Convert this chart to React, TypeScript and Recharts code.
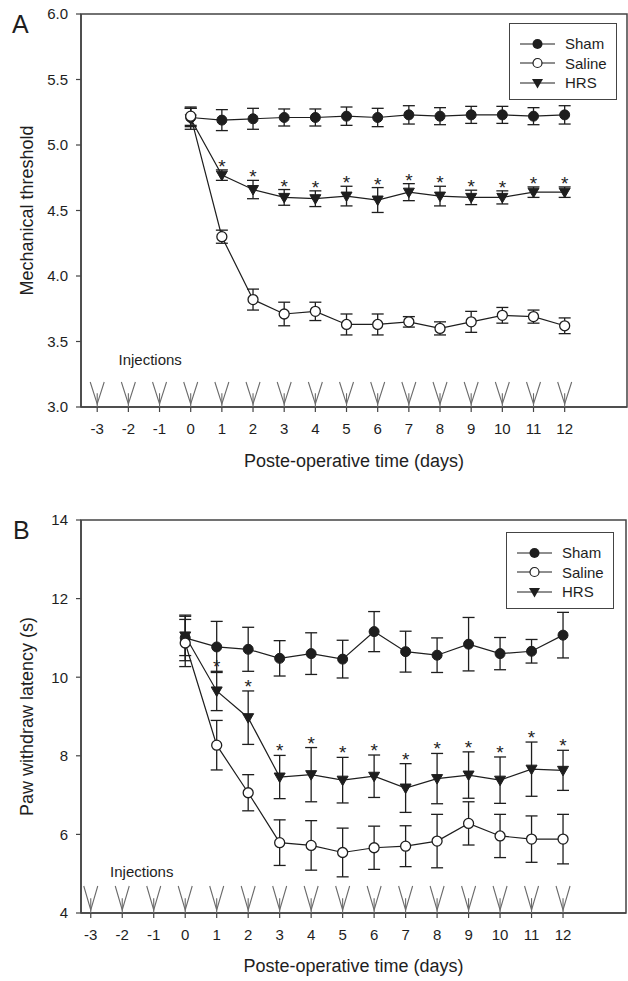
import React from "react";
import { ComposedChart, Line, Scatter, XAxis, YAxis, ErrorBar, Legend, ReferenceDot, ReferenceArea } from "recharts";

// measurement days (post-operative)
const days = [0, 1, 2, 3, 4, 5, 6, 7, 8, 9, 10, 11, 12];

// Panel A - mechanical threshold (mean, SEM)
const shamA = [5.21, 5.19, 5.2, 5.21, 5.21, 5.22, 5.21, 5.23, 5.22, 5.23, 5.23, 5.22, 5.23];
const shamAErr = [0.07, 0.08, 0.08, 0.065, 0.065, 0.07, 0.07, 0.07, 0.065, 0.065, 0.065, 0.065, 0.07];
const salineA = [5.22, 4.3, 3.82, 3.71, 3.73, 3.63, 3.63, 3.65, 3.6, 3.65, 3.7, 3.69, 3.62];
const salineAErr = [0.07, 0.05, 0.08, 0.09, 0.07, 0.08, 0.08, 0.04, 0.05, 0.08, 0.06, 0.05, 0.06];
const hrsA = [5.2, 4.77, 4.66, 4.6, 4.59, 4.61, 4.58, 4.64, 4.61, 4.6, 4.6, 4.64, 4.64];
const hrsAErr = [0.08, 0.04, 0.07, 0.06, 0.06, 0.075, 0.095, 0.065, 0.075, 0.055, 0.05, 0.04, 0.04];

// Panel B - paw withdraw latency (s)
const shamB = [11.0, 10.77, 10.71, 10.48, 10.6, 10.46, 11.16, 10.65, 10.56, 10.84, 10.6, 10.66, 11.07];
const shamBErr = [0.58, 0.65, 0.56, 0.45, 0.53, 0.48, 0.51, 0.52, 0.44, 0.68, 0.41, 0.3, 0.58];
const salineB = [10.87, 8.27, 7.06, 5.79, 5.72, 5.54, 5.66, 5.7, 5.83, 6.28, 5.96, 5.88, 5.88];
const salineBErr = [0.6, 0.63, 0.46, 0.58, 0.63, 0.62, 0.55, 0.52, 0.68, 0.55, 0.55, 0.59, 0.63];
const hrsB = [11.05, 9.65, 8.97, 7.46, 7.52, 7.38, 7.48, 7.18, 7.42, 7.51, 7.38, 7.66, 7.63];
const hrsBErr = [0.5, 0.5, 0.68, 0.55, 0.69, 0.58, 0.54, 0.62, 0.64, 0.59, 0.59, 0.69, 0.51];

// days with significant HRS vs saline difference
const sigDaysA = [1, 2, 3, 4, 5, 6, 7, 8, 9, 10, 11, 12];
const sigDaysB = [1, 2, 3, 4, 5, 6, 7, 8, 9, 10, 11, 12];

const injectionDays = [-3, -2, -1, 0, 1, 2, 3, 4, 5, 6, 7, 8, 9, 10, 11, 12];
const xTicks = [-3, -2, -1, 0, 1, 2, 3, 4, 5, 6, 7, 8, 9, 10, 11, 12];
const yTicksA = [3, 3.5, 4, 4.5, 5, 5.5, 6];
const yTicksB = [4, 6, 8, 10, 12, 14];
const groups = ["Sham", "Saline", "HRS"];

const INK = "#1e1e1e";
const AXIS = "#444";
const FONT = "'Liberation Sans', Arial, Helvetica, sans-serif";

function makeRows(sham: number[], shamErr: number[], saline: number[], salineErr: number[], hrs: number[], hrsErr: number[]) {
  return days.map((d, i) => ({
    day: d,
    sham: sham[i],
    shamErr: shamErr[i],
    saline: saline[i],
    salineErr: salineErr[i],
    hrs: hrs[i],
    hrsErr: hrsErr[i],
  }));
}

function ShamDot(props: any) {
  const { cx, cy, index } = props;
  if (cx == null || cy == null) return null;
  return <circle key={`sh-${index}`} cx={cx} cy={cy} r={5} fill={INK} stroke={INK} strokeWidth={1} />;
}

function SalineDot(props: any) {
  const { cx, cy, index } = props;
  if (cx == null || cy == null) return null;
  return <circle key={`sa-${index}`} cx={cx} cy={cy} r={5} fill="#fff" stroke={INK} strokeWidth={1.3} />;
}

function HrsDot(props: any) {
  const { cx, cy, index } = props;
  if (cx == null || cy == null) return null;
  return (
    <path
      key={`hr-${index}`}
      d={`M${cx - 5.5},${cy - 4} L${cx + 5.5},${cy - 4} L${cx},${cy + 5.5} Z`}
      fill={INK}
      stroke={INK}
      strokeWidth={1}
    />
  );
}

// little "V" arrow marking an injection, tip sitting on the x axis
const arrowShape = (h: number) => (props: any) => {
  const { cx, cy } = props;
  if (cx == null || cy == null) return <g />;
  return (
    <g stroke="#6b6b6b" strokeWidth={1.1} fill="none">
      <path d={`M${cx - 7},${cy - h} L${cx},${cy - 3} L${cx + 7},${cy - h}`} />
      <path d={`M${cx},${cy - h * 0.55} L${cx},${cy}`} />
    </g>
  );
};

const starShape = (dy: number) => (props: any) => {
  const { cx, cy } = props;
  if (cx == null || cy == null) return <g />;
  return (
    <text x={cx} y={cy + dy} textAnchor="middle" fontSize={19} fill={INK}>
      *
    </text>
  );
};

function LegendMarker({ name }: { name: string }) {
  return (
    <svg width={36} height={12} style={{ marginRight: 9, display: "block" }}>
      <line x1={0} x2={35} y1={6} y2={6} stroke={INK} strokeWidth={1.2} />
      {name === "Sham" && <circle cx={17.5} cy={6} r={5} fill={INK} />}
      {name === "Saline" && <circle cx={17.5} cy={6} r={4.5} fill="#fff" stroke={INK} strokeWidth={1.2} />}
      {name === "HRS" && <path d="M12,2 L23,2 L17.5,11.5 Z" fill={INK} />}
    </svg>
  );
}

function LegendBox() {
  return (
    <div
      style={{
        width: 108,
        height: 77,
        boxSizing: "border-box",
        border: `1px solid ${AXIS}`,
        padding: "10px 0 0 10px",
        background: "#fff",
      }}
    >
      {groups.map((g) => (
        <div key={g} style={{ display: "flex", alignItems: "center", height: 19.5, fontSize: 15, color: INK }}>
          <LegendMarker name={g} />
          <span>{g}</span>
        </div>
      ))}
    </div>
  );
}

type PanelProps = {
  rows: any[];
  hrs: number[];
  hrsErr: number[];
  sigDays: number[];
  height: number;
  margin: { top: number; right: number; bottom: number; left: number };
  xHeight: number;
  xTitleOffset: number;
  xDomain: [number, number];
  yDomain: [number, number];
  yTicks: number[];
  yFormat: (v: number) => string;
  yTitle: string;
  injLabelAt: { x: number; y: number };
  arrowHeight: number;
  starDy: number;
  legendPos: { left: number; top: number };
};

function Panel(p: PanelProps) {
  const stars = p.sigDays.map((d) => {
    const i = days.indexOf(d);
    return { day: d, top: p.hrs[i] + p.hrsErr[i] };
  });
  const arrows = injectionDays.map((d) => ({ day: d, base: p.yDomain[0] }));

  return (
    <ComposedChart width={628} height={p.height} data={p.rows} margin={p.margin}>
      <XAxis
        dataKey="day"
        type="number"
        domain={p.xDomain}
        ticks={xTicks}
        interval={0}
        allowDataOverflow
        height={p.xHeight}
        tickSize={5}
        tickMargin={11}
        axisLine={{ stroke: AXIS, strokeWidth: 1.5 }}
        tickLine={{ stroke: AXIS, strokeWidth: 1.2 }}
        tick={{ fill: INK, fontSize: 15 }}
        label={{ value: "Poste-operative time (days)", position: "insideBottom", offset: p.xTitleOffset, fontSize: 18, fill: INK }}
      />
      <YAxis
        type="number"
        domain={p.yDomain}
        ticks={p.yTicks}
        interval={0}
        allowDataOverflow
        width={76}
        tickSize={5}
        tickMargin={8}
        tickFormatter={p.yFormat}
        axisLine={{ stroke: AXIS, strokeWidth: 1.5 }}
        tickLine={{ stroke: AXIS, strokeWidth: 1.2 }}
        tick={{ fill: INK, fontSize: 15 }}
        label={{
          value: p.yTitle,
          angle: -90,
          position: "insideLeft",
          offset: 21.5,
          fontSize: 18,
          fill: INK,
          style: { textAnchor: "middle" },
        }}
      />

      {/* frame around the plotting area */}
      <ReferenceArea
        x1={p.xDomain[0]}
        x2={p.xDomain[1]}
        y1={p.yDomain[0]}
        y2={p.yDomain[1]}
        fill="none"
        fillOpacity={0}
        stroke={AXIS}
        strokeWidth={1.5}
        strokeOpacity={1}
        ifOverflow="visible"
      />

      <Scatter data={arrows} dataKey="base" shape={arrowShape(p.arrowHeight)} isAnimationActive={false} legendType="none" />
      <ReferenceDot
        x={p.injLabelAt.x}
        y={p.injLabelAt.y}
        r={0}
        fill="none"
        stroke="none"
        label={{ value: "Injections", position: "center", fontSize: 15, fill: INK }}
      />

      <Line type="linear" dataKey="sham" name="Sham" stroke={INK} strokeWidth={1.2} dot={ShamDot} activeDot={false} isAnimationActive={false}>
        <ErrorBar dataKey="shamErr" width={6} stroke={INK} strokeWidth={1.3} direction="y" />
      </Line>
      <Line type="linear" dataKey="hrs" name="HRS" stroke={INK} strokeWidth={1.2} dot={HrsDot} activeDot={false} isAnimationActive={false}>
        <ErrorBar dataKey="hrsErr" width={6} stroke={INK} strokeWidth={1.3} direction="y" />
      </Line>
      <Line type="linear" dataKey="saline" name="Saline" stroke={INK} strokeWidth={1.2} dot={SalineDot} activeDot={false} isAnimationActive={false}>
        <ErrorBar dataKey="salineErr" width={6} stroke={INK} strokeWidth={1.3} direction="y" />
      </Line>

      <Scatter data={stars} dataKey="top" shape={starShape(p.starDy)} isAnimationActive={false} legendType="none" />

      <Legend
        layout="vertical"
        align="center"
        verticalAlign="middle"
        content={() => <LegendBox />}
        wrapperStyle={{ left: p.legendPos.left, top: p.legendPos.top, width: 108 }}
      />
    </ComposedChart>
  );
}

export default function App() {
  const rowsA = makeRows(shamA, shamAErr, salineA, salineAErr, hrsA, hrsAErr);
  const rowsB = makeRows(shamB, shamBErr, salineB, salineBErr, hrsB, hrsBErr);

  return (
    <div style={{ position: "absolute", left: 0, top: 0, width: 628, height: 981, background: "#fff", fontFamily: FONT, color: INK }}>
      <div style={{ position: "absolute", left: 0, top: 0 }}>
        <Panel
          rows={rowsA}
          hrs={hrsA}
          hrsErr={hrsAErr}
          sigDays={sigDaysA}
          height={490}
          margin={{ top: 14, right: 1, bottom: 13, left: 5 }}
          xHeight={70}
          xTitleOffset={10}
          xDomain={[-3.52, 14]}
          yDomain={[3, 6]}
          yTicks={yTicksA}
          yFormat={(v: number) => v.toFixed(1)}
          yTitle="Mechanical threshold"
          injLabelAt={{ x: -1.3, y: 3.36 }}
          arrowHeight={25}
          starDy={3}
          legendPos={{ left: 509, top: 23 }}
        />
      </div>
      <div style={{ position: "absolute", left: 0, top: 490 }}>
        <Panel
          rows={rowsB}
          hrs={hrsB}
          hrsErr={hrsBErr}
          sigDays={sigDaysB}
          height={491}
          margin={{ top: 30, right: 2, bottom: 6, left: 5 }}
          xHeight={62}
          xTitleOffset={3}
          xDomain={[-3.31, 14]}
          yDomain={[4, 14]}
          yTicks={yTicksB}
          yFormat={(v: number) => String(v)}
          yTitle="Paw withdraw latency (s)"
          injLabelAt={{ x: -1.38, y: 5.04 }}
          arrowHeight={27}
          starDy={2}
          legendPos={{ left: 506, top: 42 }}
        />
      </div>
      <div style={{ position: "absolute", left: 12, top: 12, fontSize: 25, lineHeight: "25px" }}>A</div>
      <div style={{ position: "absolute", left: 13, top: 518, fontSize: 25, lineHeight: "25px" }}>B</div>
    </div>
  );
}
